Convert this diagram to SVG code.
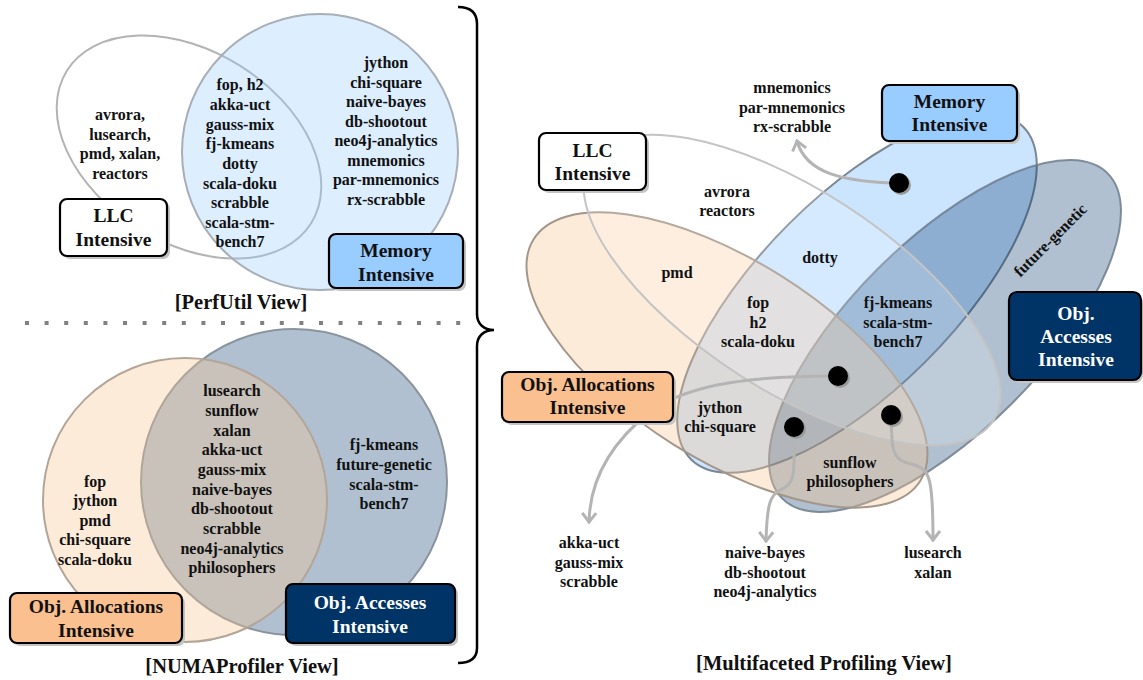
<svg xmlns="http://www.w3.org/2000/svg" width="1143" height="680" viewBox="0 0 1143 680">
<style>
text{font-family:"Liberation Serif","Times New Roman",serif;font-weight:bold;text-anchor:middle;fill:#111}
.i{font-size:16px}
.l{font-size:19.5px}
.lw{font-size:19.5px;fill:#fff}
.ttl{font-size:20.5px}
.box{stroke:#000;stroke-width:2.2}
.sh{fill:#c4c4c4}
.con{fill:none;stroke:#b4b4b4;stroke-width:3;stroke-linecap:round}
</style>
<defs>
<marker id="arr" markerUnits="userSpaceOnUse" markerWidth="14" markerHeight="20" viewBox="-12 -10 14 20" refX="0" refY="0" orient="auto">
<path d="M-9,-7 L0,0 L-9,7" fill="none" stroke="#b4b4b4" stroke-width="3"/>
</marker>
</defs>
<rect width="1143" height="680" fill="#fff"/>

<!-- PerfUtil view -->
<g id="perfutil">
<ellipse cx="189" cy="147" rx="144" ry="96" transform="rotate(32 189 147)" fill="#fff" stroke="#b3b3b3" stroke-width="2"/>
<circle cx="320" cy="152" r="138" fill="#99ccff" fill-opacity="0.33" stroke="#a7aeb6" stroke-width="2"/>
<text class="i"><tspan x="120" y="120">avrora,</tspan><tspan x="120" y="139.5">lusearch,</tspan><tspan x="120" y="159">pmd, xalan,</tspan><tspan x="120" y="178.5">reactors</tspan></text>
<text class="i"><tspan x="240" y="90">fop, h2</tspan><tspan x="240" y="110">akka-uct</tspan><tspan x="240" y="129.5">gauss-mix</tspan><tspan x="240" y="149">fj-kmeans</tspan><tspan x="240" y="169">dotty</tspan><tspan x="240" y="188.5">scala-doku</tspan><tspan x="240" y="208">scrabble</tspan><tspan x="240" y="228">scala-stm-</tspan><tspan x="240" y="247">bench7</tspan></text>
<text class="i"><tspan x="386" y="68">jython</tspan><tspan x="386" y="87.5">chi-square</tspan><tspan x="386" y="107">naive-bayes</tspan><tspan x="386" y="126.5">db-shootout</tspan><tspan x="386" y="146">neo4j-analytics</tspan><tspan x="386" y="166">mnemonics</tspan><tspan x="386" y="185">par-mnemonics</tspan><tspan x="386" y="205">rx-scrabble</tspan></text>
</g>
<g id="pu-llc-label">
<rect class="sh" x="63" y="202" width="107" height="57" rx="7"/>
<rect class="box" x="60" y="199" width="107" height="57" rx="7" fill="#fff"/>
<text class="l"><tspan x="113.5" y="222">LLC</tspan><tspan x="113.5" y="246">Intensive</tspan></text>
</g>
<g id="pu-mem-label">
<rect class="sh" x="332" y="237" width="134" height="54" rx="7"/>
<rect class="box" x="329" y="234" width="134" height="54" rx="7" fill="#99ccff"/>
<text class="l"><tspan x="396" y="257">Memory</tspan><tspan x="396" y="281">Intensive</tspan></text>
</g>
<text class="ttl" x="241" y="309">[PerfUtil View]</text>

<line x1="25" y1="323" x2="462" y2="323" stroke="#808080" stroke-width="4" stroke-dasharray="4 15.6"/>

<!-- NUMAProfiler view -->
<g id="numa">
<circle cx="294" cy="482" r="153" fill="#003366" fill-opacity="0.31" stroke="#8a949e" stroke-width="2"/>
<circle cx="185" cy="500" r="142" fill="#f9c692" fill-opacity="0.35" stroke="#b3a597" stroke-width="2"/>
<text class="i"><tspan x="95" y="487">fop</tspan><tspan x="95" y="506">jython</tspan><tspan x="95" y="525.5">pmd</tspan><tspan x="95" y="545">chi-square</tspan><tspan x="95" y="564.5">scala-doku</tspan></text>
<text class="i"><tspan x="232" y="396">lusearch</tspan><tspan x="232" y="416">sunflow</tspan><tspan x="232" y="436">xalan</tspan><tspan x="232" y="455">akka-uct</tspan><tspan x="232" y="475">gauss-mix</tspan><tspan x="232" y="495">naive-bayes</tspan><tspan x="232" y="514">db-shootout</tspan><tspan x="232" y="534">scrabble</tspan><tspan x="232" y="554">neo4j-analytics</tspan><tspan x="232" y="573">philosophers</tspan></text>
<text class="i"><tspan x="384" y="450">fj-kmeans</tspan><tspan x="384" y="470">future-genetic</tspan><tspan x="384" y="490">scala-stm-</tspan><tspan x="384" y="509">bench7</tspan></text>
</g>
<g id="numa-alloc-label">
<rect class="sh" x="13" y="596" width="172" height="50" rx="7"/>
<rect class="box" x="10" y="593" width="172" height="50" rx="7" fill="#fac090"/>
<text class="l"><tspan x="96" y="613">Obj. Allocations</tspan><tspan x="96" y="637">Intensive</tspan></text>
</g>
<g id="numa-access-label">
<rect class="sh" x="289" y="587" width="169" height="59" rx="7"/>
<rect class="box" x="286" y="584" width="169" height="59" rx="7" fill="#003366"/>
<text class="lw"><tspan x="370" y="609">Obj. Accesses</tspan><tspan x="370" y="633">Intensive</tspan></text>
</g>
<text class="ttl" x="242" y="673">[NUMAProfiler View]</text>

<path id="brace" d="M458,7 C470,7 477,12 477,24 L477,314 C477,324 484,330 494,330 C484,330 477,336 477,346 L477,648 C477,658 470,663 458,663" fill="none" stroke="#000" stroke-width="2.5"/>

<!-- Multifaceted view -->
<g id="mf-sets">
<ellipse cx="792" cy="290" rx="240" ry="100" transform="rotate(33 792 290)" fill="#fff"/>
<ellipse id="mf-mem" cx="857" cy="293" rx="235" ry="97" transform="rotate(-45 857 293)" fill="#99ccff" fill-opacity="0.5" stroke="#5f6b78" stroke-opacity="0.8" stroke-width="2"/>
<ellipse id="mf-access" cx="945" cy="336" rx="230" ry="95" transform="rotate(-45 945 336)" fill="#003366" fill-opacity="0.31" stroke="#6e7d8c" stroke-opacity="0.85" stroke-width="2"/>
<ellipse id="mf-alloc" cx="727" cy="360" rx="228" ry="100" transform="rotate(32 727 360)" fill="#f9c692" fill-opacity="0.35" stroke="#a3968a" stroke-width="2"/>
<ellipse id="mf-llc" cx="792" cy="290" rx="240" ry="100" transform="rotate(33 792 290)" fill="#fff" fill-opacity="0.18" stroke="#c4c4c4" stroke-width="2"/>
</g>
<g id="mf-items">
<text class="i"><tspan x="792" y="93">mnemonics</tspan><tspan x="792" y="112.5">par-mnemonics</tspan><tspan x="792" y="132">rx-scrabble</tspan></text>
<text class="i"><tspan x="727" y="197">avrora</tspan><tspan x="727" y="216">reactors</tspan></text>
<text class="i" x="677" y="278">pmd</text>
<text class="i" x="820" y="263">dotty</text>
<text class="i"><tspan x="758" y="308">fop</tspan><tspan x="758" y="328">h2</tspan><tspan x="758" y="347">scala-doku</tspan></text>
<text class="i"><tspan x="898" y="308">fj-kmeans</tspan><tspan x="898" y="328">scala-stm-</tspan><tspan x="898" y="347">bench7</tspan></text>
<text class="i" transform="translate(1054,244) rotate(-45)">future-genetic</text>
<text class="i"><tspan x="720" y="413">jython</tspan><tspan x="720" y="432">chi-square</tspan></text>
<text class="i"><tspan x="850" y="468">sunflow</tspan><tspan x="850" y="486.5">philosophers</tspan></text>
<text class="i"><tspan x="589" y="548">akka-uct</tspan><tspan x="589" y="567.5">gauss-mix</tspan><tspan x="589" y="587">scrabble</tspan></text>
<text class="i"><tspan x="765" y="558">naive-bayes</tspan><tspan x="765" y="577.5">db-shootout</tspan><tspan x="765" y="597">neo4j-analytics</tspan></text>
<text class="i"><tspan x="933" y="558">lusearch</tspan><tspan x="933" y="578">xalan</tspan></text>
</g>
<g id="connectors">
<path class="con" d="M891,183 C845,181 806,174 797,141" marker-end="url(#arr)"/>
<path class="con" d="M838,376 C760,376 690,382 650,412 C612,442 590,478 589,522" marker-end="url(#arr)"/>
<path class="con" d="M794,430 L794,462 C794,480 790,486 780,490 C770,495 767,505 766,541" marker-end="url(#arr)"/>
<path class="con" d="M891,418 L892,440 C893,458 900,462 915,465 C930,470 933,480 933,540" marker-end="url(#arr)"/>
</g>
<g id="dots">
<circle cx="901" cy="185" r="10" fill="#9a9a9a"/><circle cx="899" cy="183" r="10" fill="#000"/>
<circle cx="840" cy="378" r="10" fill="#9a9a9a"/><circle cx="838" cy="376" r="10" fill="#000"/>
<circle cx="796" cy="429" r="10" fill="#9a9a9a"/><circle cx="794" cy="427" r="10" fill="#000"/>
<circle cx="893" cy="417" r="10" fill="#9a9a9a"/><circle cx="891" cy="415" r="10" fill="#000"/>
</g>
<g id="mf-llc-label">
<rect class="sh" x="542" y="136" width="107" height="57" rx="7"/>
<rect class="box" x="539" y="133" width="107" height="57" rx="7" fill="#fff"/>
<text class="l"><tspan x="592.5" y="157">LLC</tspan><tspan x="592.5" y="180">Intensive</tspan></text>
</g>
<g id="mf-mem-label">
<rect class="sh" x="885" y="88" width="135" height="56" rx="7"/>
<rect class="box" x="882" y="85" width="135" height="56" rx="7" fill="#99ccff"/>
<text class="l"><tspan x="949.5" y="108">Memory</tspan><tspan x="949.5" y="131">Intensive</tspan></text>
</g>
<g id="mf-access-label">
<rect class="sh" x="1012" y="295" width="131" height="88" rx="8"/>
<rect class="box" x="1009" y="292" width="132" height="88" rx="8" fill="#003366"/>
<text class="lw"><tspan x="1076" y="320">Obj.</tspan><tspan x="1076" y="343">Accesses</tspan><tspan x="1076" y="366">Intensive</tspan></text>
</g>
<g id="mf-alloc-label">
<rect class="sh" x="505" y="375" width="171" height="50" rx="7"/>
<rect class="box" x="502" y="372" width="171" height="50" rx="7" fill="#fac090"/>
<text class="l"><tspan x="587.5" y="391">Obj. Allocations</tspan><tspan x="587.5" y="414">Intensive</tspan></text>
</g>
<text class="ttl" x="824" y="670">[Multifaceted Profiling View]</text>
</svg>
